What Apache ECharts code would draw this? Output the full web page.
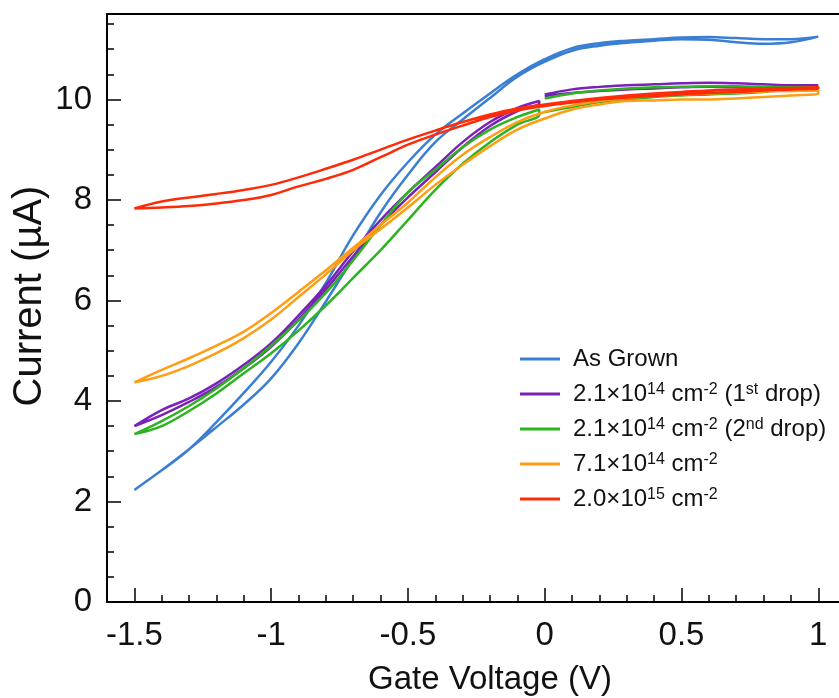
<!DOCTYPE html>
<html><head><meta charset="utf-8">
<script src="https://cdn.jsdelivr.net/npm/echarts@6/dist/echarts.min.js"></script>
<style>html,body{margin:0;padding:0;background:#fff}#c{width:839px;height:698px}</style>
</head><body><div id="c"></div>
<script>
const FONT = 'Liberation Sans';
const seriesNames = ['As Grown', '2.1×10¹⁴ cm⁻² (1st drop)', '2.1×10¹⁴ cm⁻² (2nd drop)', '7.1×10¹⁴ cm⁻²', '2.0×10¹⁵ cm⁻²'];
const legendRich = ['As Grown', '2.1×10{s|14} cm{s|-2} (1{s|st} drop)', '2.1×10{s|14} cm{s|-2} (2{s|nd} drop)', '7.1×10{s|14} cm{s|-2}', '2.0×10{s|15} cm{s|-2}'];
const colors = ['#3a7fd3', '#7a22b8', '#2cb420', '#ff9d14', '#ff2a08'];

const xMajorTicks = [-1.5, -1, -0.5, 0, 0.5, 1];
const xMinorTicks = [-1.4, -1.3, -1.2, -1.1, -0.9, -0.8, -0.7, -0.6, -0.4, -0.3, -0.2, -0.1, 0.1, 0.2, 0.3, 0.4, 0.6, 0.7, 0.8, 0.9, 1.1];
const yMajorTicks = [0, 2, 4, 6, 8, 10];
const yMinorTicks = [0.5, 1, 1.5, 2.5, 3, 3.5, 4.5, 5, 5.5, 6.5, 7, 7.5, 8.5, 9, 9.5, 10.5, 11, 11.5];

// Gate voltage sweeps
const vFull = [-1.5, -1.4, -1.3, -1.2, -1.1, -1.0, -0.9, -0.8, -0.7, -0.6, -0.5, -0.4, -0.3, -0.2, -0.1, 0, 0.1, 0.2, 0.3, 0.4, 0.5, 0.6, 0.7, 0.8, 0.9, 1.0];
const vLeft = [-1.5, -1.4, -1.3, -1.2, -1.1, -1.0, -0.9, -0.8, -0.7, -0.6, -0.5, -0.4, -0.3, -0.2, -0.1, -0.02];
const vRight = [0, 0.1, 0.2, 0.3, 0.4, 0.5, 0.6, 0.7, 0.8, 0.9, 1.0];

// As Grown (two sweep branches)
const blueA = [2.23, 2.62, 3.04, 3.58, 4.16, 4.78, 5.5, 6.35, 7.3, 8.1, 8.75, 9.3, 9.72, 10.12, 10.5, 10.8, 11.02, 11.12, 11.17, 11.2, 11.23, 11.24, 11.22, 11.2, 11.2, 11.25];
const blueB = [2.23, 2.62, 3.04, 3.48, 3.93, 4.45, 5.15, 5.98, 6.85, 7.75, 8.5, 9.15, 9.6, 10.03, 10.45, 10.75, 10.97, 11.07, 11.13, 11.17, 11.2, 11.19, 11.14, 11.11, 11.14, 11.25];
// 2.1e14 1st drop
const purpleLeftA = [3.5, 3.82, 4.05, 4.35, 4.72, 5.15, 5.7, 6.3, 6.98, 7.6, 8.15, 8.65, 9.15, 9.55, 9.83, 9.97];
const purpleLeftB = [3.5, 3.72, 3.98, 4.28, 4.65, 5.08, 5.62, 6.22, 6.88, 7.5, 8.05, 8.55, 9.05, 9.47, 9.77, 9.93];
const purpleRightA = [10.1, 10.2, 10.25, 10.28, 10.3, 10.32, 10.33, 10.32, 10.3, 10.28, 10.28];
const purpleRightB = [10.07, 10.13, 10.17, 10.2, 10.22, 10.24, 10.25, 10.24, 10.24, 10.24, 10.28];
// 2.1e14 2nd drop
const greenLeftA = [3.34, 3.6, 3.9, 4.25, 4.65, 5.1, 5.6, 6.15, 6.8, 7.5, 8.15, 8.6, 9.05, 9.4, 9.65, 9.8];
const greenLeftB = [3.34, 3.5, 3.8, 4.15, 4.55, 4.95, 5.4, 5.9, 6.45, 7.0, 7.6, 8.2, 8.72, 9.15, 9.5, 9.7];
const greenRightA = [10.02, 10.12, 10.18, 10.22, 10.24, 10.25, 10.26, 10.26, 10.25, 10.24, 10.24];
const greenRightB = [9.75, 9.85, 9.95, 10.0, 10.05, 10.08, 10.1, 10.12, 10.15, 10.2, 10.24];
// 7.1e14
const orangeA = [4.37, 4.62, 4.85, 5.1, 5.38, 5.75, 6.17, 6.6, 7.05, 7.5, 7.95, 8.45, 8.9, 9.25, 9.55, 9.75, 9.88, 9.97, 10.03, 10.07, 10.1, 10.12, 10.14, 10.16, 10.17, 10.18];
const orangeB = [4.37, 4.5, 4.7, 4.95, 5.25, 5.62, 6.07, 6.52, 7.0, 7.42, 7.85, 8.3, 8.7, 9.07, 9.4, 9.62, 9.8, 9.9, 9.97, 9.98, 10.0, 10.0, 10.02, 10.05, 10.08, 10.12];
// 2.0e15
const redA = [7.83, 7.97, 8.05, 8.12, 8.2, 8.3, 8.45, 8.62, 8.8, 9.0, 9.2, 9.38, 9.55, 9.7, 9.82, 9.9, 9.97, 10.03, 10.08, 10.12, 10.15, 10.18, 10.2, 10.22, 10.23, 10.24];
const redB = [7.83, 7.85, 7.88, 7.93, 8.0, 8.1, 8.27, 8.42, 8.6, 8.85, 9.1, 9.3, 9.48, 9.65, 9.78, 9.87, 9.94, 10.0, 10.04, 10.07, 10.1, 10.13, 10.15, 10.18, 10.2, 10.22];

function loop(vs, a, b) {
  const pts = vs.map((v, i) => [v, a[i]]);
  for (let i = vs.length - 1; i >= 0; i--) pts.push([vs[i], b[i]]);
  return pts;
}
const seriesData = [
  loop(vFull, blueA, blueB),
  loop(vLeft, purpleLeftA, purpleLeftB).concat([[-0.01, '-']], loop(vRight, purpleRightA, purpleRightB)),
  loop(vLeft, greenLeftA, greenLeftB).concat([[-0.01, '-']], loop(vRight, greenRightA, greenRightB)),
  loop(vFull, orangeA, orangeB),
  loop(vFull, redA, redB)
];

const chart = echarts.init(document.getElementById('c'), null, {renderer: 'canvas'});
const txt = {fontFamily: FONT, color: '#111'};
chart.setOption({
  animation: false,
  backgroundColor: '#fff',
  grid: {left: 107, top: 14, width: 766, height: 588, containLabel: false, outerBoundsMode: 'none'},
  xAxis: [
    {type: 'value', min: -1.6, max: 1.2, position: 'bottom',
     axisLine: {show: true, onZero: false, lineStyle: {color: '#000', width: 2}},
     axisTick: {show: true, inside: true, length: 14, customValues: xMajorTicks, lineStyle: {color: '#000', width: 1.5}},
     axisLabel: {show: true, customValues: xMajorTicks, margin: 17, fontSize: 33, ...txt},
     splitLine: {show: false},
     name: 'Gate Voltage (V)', nameLocation: 'middle', nameGap: 61, nameMoveOverlap: false,
     nameTextStyle: {fontSize: 33, ...txt}},
    {type: 'value', min: -1.6, max: 1.2, position: 'bottom',
     axisLine: {show: false, onZero: false},
     axisTick: {show: true, inside: true, length: 7, customValues: xMinorTicks, lineStyle: {color: '#000', width: 1.5}},
     axisLabel: {show: false}, splitLine: {show: false}},
    {type: 'value', min: -1.6, max: 1.2, position: 'top',
     axisLine: {show: true, onZero: false, lineStyle: {color: '#000', width: 2}},
     axisTick: {show: false}, axisLabel: {show: false}, splitLine: {show: false}}
  ],
  yAxis: [
    {type: 'value', min: 0, max: 11.7, position: 'left',
     axisLine: {show: true, onZero: false, lineStyle: {color: '#000', width: 2}},
     axisTick: {show: true, inside: true, length: 14, customValues: yMajorTicks, lineStyle: {color: '#000', width: 1.5}},
     axisLabel: {show: true, customValues: yMajorTicks, margin: 15, fontSize: 33, ...txt},
     splitLine: {show: false},
     name: 'Current (µA)', nameLocation: 'middle', nameGap: 57, nameMoveOverlap: false,
     nameTextStyle: {fontSize: 40, padding: [0, 0, 0, 24], ...txt}},
    {type: 'value', min: 0, max: 11.7, position: 'left',
     axisLine: {show: false, onZero: false},
     axisTick: {show: true, inside: true, length: 7, customValues: yMinorTicks, lineStyle: {color: '#000', width: 1.5}},
     axisLabel: {show: false}, splitLine: {show: false}}
  ],
  legend: {
    orient: 'vertical', left: 515, top: 342, itemWidth: 40, itemHeight: 3, icon: 'rect', itemGap: 11,
    data: seriesNames,
    formatter: name => legendRich[seriesNames.indexOf(name)],
    textStyle: {fontFamily: FONT, fontSize: 24, color: '#111', lineHeight: 24, padding: [0, 0, 0, 8],
      rich: {s: {fontFamily: FONT, fontSize: 16, color: '#111', lineHeight: 13, verticalAlign: 'top'}}}
  },
  series: seriesNames.map((n, i) => ({
    name: n, type: 'line', xAxisIndex: 0, yAxisIndex: 0,
    data: seriesData[i], showSymbol: false, symbol: 'none', smooth: 0.4, connectNulls: false,
    lineStyle: {color: colors[i], width: 2.5}, itemStyle: {color: colors[i]}, z: 2 + i
  }))
});
</script></body></html>
